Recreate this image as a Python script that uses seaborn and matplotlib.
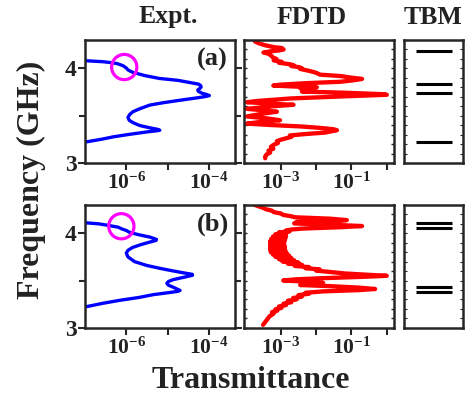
import numpy as np
import pandas as pd
import matplotlib
matplotlib.use("Agg")
import matplotlib.pyplot as plt
import seaborn as sns
from matplotlib.ticker import FixedLocator, MultipleLocator, FixedFormatter

# ---------------- data (frequency in GHz, log10 transmittance) ----------------
expt_a_freq = [3.22, 3.25, 3.275, 3.30, 3.317, 3.33, 3.34, 3.345, 3.355, 3.37, 3.395, 3.425, 3.45,
               3.48, 3.51, 3.54, 3.575, 3.61, 3.635, 3.66, 3.685, 3.70, 3.71, 3.72, 3.735, 3.755,
               3.77, 3.785, 3.80, 3.815, 3.83, 3.85, 3.87, 3.89, 3.92, 3.954, 3.97, 3.98, 4.0,
               4.024, 4.04, 4.048, 4.058, 4.066, 4.076, 4.078]
expt_a_logT = [-7.0, -6.6, -6.32, -5.95, -5.67, -5.45, -5.25, -5.19, -5.25, -5.43, -5.68, -5.84, -5.93,
               -5.96, -5.92, -5.84, -5.65, -5.43, -5.1, -4.71, -4.3, -4.08, -3.99, -4.05, -4.17, -4.26,
               -4.27, -4.22, -4.19, -4.2, -4.25, -4.5, -4.75, -5.2, -5.55, -5.84, -5.92, -5.96, -6.0,
               -6.08, -6.18, -6.24, -6.4, -6.56, -6.96, -7.0]

expt_b_freq = [3.22, 3.26, 3.29, 3.32, 3.35, 3.37, 3.385, 3.395, 3.405, 3.43, 3.45, 3.47, 3.49, 3.51,
               3.535, 3.555, 3.565, 3.58, 3.60, 3.63, 3.66, 3.70, 3.75, 3.79, 3.82, 3.85, 3.88, 3.905,
               3.925, 3.935, 3.945, 3.96, 3.985, 4.01, 4.03, 4.045, 4.065, 4.085, 4.10, 4.112]
expt_b_logT = [-7.0, -6.55, -6.16, -5.7, -5.35, -5.0, -4.75, -4.70, -4.75, -4.87, -4.98, -5.02, -4.98, -4.86,
               -4.6, -4.40, -4.40, -4.6, -4.85, -5.2, -5.51, -5.8, -5.96, -6.0, -5.96, -5.85, -5.65, -5.45,
               -5.28, -5.27, -5.33, -5.43, -5.7, -5.92, -6.0, -6.1, -6.2, -6.45, -6.66, -7.0]

circle_a = (-6.05, 4.01)
circle_b = (-6.12, 4.075)

fdtd_a_freq = [4.28, 4.26, 4.24, 4.22, 4.21, 4.195, 4.185, 4.175, 4.163, 4.15, 4.13, 4.11, 4.095, 4.08,
               4.065, 4.055, 4.04, 4.03, 4.02, 4.01, 4.0, 3.99, 3.97, 3.95, 3.93, 3.915, 3.9, 3.885,
               3.87, 3.855, 3.84, 3.825, 3.815, 3.805, 3.797, 3.787, 3.775, 3.762, 3.752, 3.74, 3.725,
               3.718, 3.71, 3.70, 3.68, 3.655, 3.64, 3.625, 3.613, 3.595, 3.57, 3.555, 3.54, 3.52,
               3.49, 3.47, 3.45, 3.435, 3.415, 3.40, 3.385, 3.37, 3.355, 3.345, 3.335, 3.32, 3.305,
               3.29, 3.275, 3.26, 3.245, 3.23, 3.21, 3.19, 3.17, 3.15, 3.13, 3.11, 3.09, 3.07, 3.05]
fdtd_a_logT = [-3.73, -3.62, -3.45, -3.2, -2.97, -2.92, -3.05, -3.3, -3.49, -3.35, -3.27, -3.22, -3.12, -3.2,
               -2.97, -3.05, -2.75, -2.64, -2.7, -2.5, -2.41, -2.45, -2.2, -2.0, -1.89, -1.3, -1.04, -0.70,
               -0.95, -1.32, -2.3, -3.0, -3.21, -2.6, -1.98, -2.45, -2.2, -2.12, -2.4, -1.2, -0.15,
               0.0, -0.6, -1.32, -2.7, -3.6, -3.96, -3.3, -2.64, -3.3, -3.96, -3.5, -3.11, -3.5,
               -3.96, -3.4, -3.02, -3.5, -3.96, -3.3, -2.45, -1.9, -1.5, -1.41, -1.55, -1.75, -2.3,
               -2.74, -2.7, -2.85, -3.0, -3.11, -3.08, -3.21, -3.28, -3.21, -3.35, -3.3, -3.40, -3.44, -3.44]

fdtd_b_freq = [4.30, 4.285, 4.27, 4.255, 4.24, 4.225, 4.21, 4.195, 4.18, 4.17, 4.155, 4.14, 4.13, 4.12,
               4.105, 4.09, 4.077, 4.065, 4.05, 4.04, 4.03, 4.02,
               4.01, 4.0, 3.99, 3.978, 3.966, 3.954, 3.942, 3.93, 3.918, 3.906, 3.894, 3.882, 3.87,
               3.858, 3.846, 3.834, 3.822, 3.81, 3.798, 3.786, 3.774, 3.762, 3.75, 3.738, 3.726,
               3.714, 3.702, 3.69, 3.678, 3.666, 3.654, 3.642,
               3.63, 3.618, 3.605, 3.59, 3.575, 3.56, 3.55, 3.54, 3.525, 3.512, 3.50, 3.488, 3.475,
               3.462, 3.452, 3.44, 3.425, 3.41, 3.398, 3.385, 3.37, 3.36, 3.345, 3.33, 3.315, 3.30,
               3.285, 3.27, 3.255, 3.24, 3.225, 3.21, 3.195, 3.18, 3.165, 3.15, 3.12, 3.09, 3.06, 3.03]
fdtd_b_logT = [-3.73, -3.62, -3.50, -3.42, -3.25, -3.2, -3.0, -2.93, -2.7, -2.6, -1.6, -1.13, -1.35, -2.55,
               -2.62, -1.5, -0.70, -1.3, -2.4, -2.7, -2.85, -2.75,
               -3.05, -2.85, -3.15, -2.85, -3.22, -2.86, -3.27, -2.88, -3.3, -2.9, -3.3, -2.9, -3.3,
               -2.88, -3.3, -2.88, -3.3, -2.86, -3.28, -2.82, -3.22, -2.76, -3.15, -2.7, -3.05,
               -2.62, -2.95, -2.5, -2.8, -2.4, -2.6, -2.2,
               -2.3, -1.9, -2.0, -1.6, -1.2, -0.5, 0.0, -0.6, -1.8, -2.6, -2.93, -2.3, -1.80,
               -2.1, -2.45, -1.6, -0.8, -0.33, -0.8, -1.8, -2.3, -2.2, -2.5, -2.4, -2.65, -2.55,
               -2.8, -2.7, -2.92, -2.85, -3.05, -2.98, -3.15, -3.1, -3.25, -3.2, -3.32, -3.38, -3.44, -3.5]

tbm_a_levels = [4.174, 3.833, 3.735, 3.223]
tbm_b_levels = [4.106, 4.053, 3.434, 3.381]

panel_titles = ["Expt.", "FDTD", "TBM"]
panel_tags = ["(a)", "(b)"]
expt_ticks = [1e-6, 1e-5, 1e-4]
expt_ticklabels = [r"$10^{-6}$", "", r"$10^{-4}$"]
fdtd_ticks = [1e-3, 1e-2, 1e-1, 1e0]
fdtd_ticklabels = [r"$10^{-3}$", "", r"$10^{-1}$", ""]

# ---------------- style ----------------
sns.set_style("ticks")
plt.rcParams["font.family"] = ["Liberation Serif", "DejaVu Serif"]
plt.rcParams["font.weight"] = "bold"
plt.rcParams["mathtext.fontset"] = "custom"
plt.rcParams["mathtext.rm"] = "Liberation Serif:bold"
plt.rcParams["mathtext.it"] = "Liberation Serif:bold"
plt.rcParams["mathtext.bf"] = "Liberation Serif:bold"
plt.rcParams["mathtext.default"] = "rm"
TXT = "#222222"
plt.rcParams["xtick.labelcolor"] = TXT
plt.rcParams["ytick.labelcolor"] = TXT

W, H = 473, 399
fig = plt.figure(figsize=(W / 100, H / 100), dpi=100)

def rect(l, r, t, b):
    return [l / W, 1 - b / H, (r - l) / W, (b - t) / H]

rows = [(39.5, 163), (205, 327.7)]
cols = [(85, 235), (244, 393.5), (404, 462.5)]

expt_data = [(expt_a_freq, expt_a_logT, circle_a), (expt_b_freq, expt_b_logT, circle_b)]
fdtd_data = [(fdtd_a_freq, fdtd_a_logT), (fdtd_b_freq, fdtd_b_logT)]
tbm_data = [tbm_a_levels, tbm_b_levels]

SPW = 1.8
for r, (t, b) in enumerate(rows):
    # ---- Expt ----
    ax = fig.add_axes(rect(cols[0][0], cols[0][1], t, b))
    fq, lg, circ = expt_data[r]
    df = pd.DataFrame({"T": 10 ** np.array(lg), "f": fq})
    sns.lineplot(data=df, x="T", y="f", sort=False, estimator=None, color="#0000ff",
                 lw=2.4, ax=ax)
    cdf = pd.DataFrame({"T": [10 ** circ[0]], "f": [circ[1]]})
    sns.scatterplot(data=cdf, x="T", y="f", marker="o", s=330, facecolor="none",
                    edgecolor="#ff00ff", linewidth=2.3, ax=ax, zorder=5)
    ax.set_xscale("log")
    ax.set_xlim(1e-7, 10 ** -3.37)
    ax.set_ylim(3, 4.3)
    ax.xaxis.set_major_locator(FixedLocator(expt_ticks))
    ax.xaxis.set_major_formatter(FixedFormatter(expt_ticklabels))
    ax.xaxis.set_minor_locator(FixedLocator([]))
    ax.yaxis.set_major_locator(FixedLocator([3, 4]))
    ax.yaxis.set_minor_locator(FixedLocator([3.5]))
    ax.tick_params(axis="both", which="major", direction="out", length=5, width=1.5,
                   labelsize=17, pad=1, right=True)
    ax.tick_params(axis="x", labelsize=15.5, pad=2)
    ax.tick_params(axis="y", which="minor", direction="out", length=4, width=1.5, right=True)
    ax.text(0.85, 0.84, panel_tags[r], transform=ax.transAxes, ha="center", va="center",
            fontsize=19, fontweight="bold", color=TXT)
    ax.set_xlabel("")
    ax.set_ylabel("")
    for s in ax.spines.values():
        s.set_linewidth(SPW)
        s.set_visible(True)

    # ---- FDTD ----
    ax = fig.add_axes(rect(cols[1][0], cols[1][1], t, b))
    fq, lg = fdtd_data[r]
    df = pd.DataFrame({"T": 10 ** np.array(lg), "f": fq})
    sns.lineplot(data=df, x="T", y="f", sort=False, estimator=None, color="#ff0000",
                 lw=3.1, ax=ax)
    ax.set_xscale("log")
    ax.set_xlim(10 ** -4.04, 10 ** 0.19)
    ax.set_ylim(3, 4.3)
    ax.xaxis.set_major_locator(FixedLocator(fdtd_ticks))
    ax.xaxis.set_major_formatter(FixedFormatter(fdtd_ticklabels))
    ax.xaxis.set_minor_locator(FixedLocator([]))
    ax.yaxis.set_major_locator(FixedLocator([]))
    ax.yaxis.set_minor_locator(MultipleLocator(0.1))
    ax.tick_params(axis="x", which="major", direction="out", length=5, width=1.5,
                   labelsize=15.5, pad=2)
    ax.tick_params(axis="y", which="minor", direction="in", length=2.5, width=1.0,
                   left=True, right=True)
    ax.set_xlabel("")
    ax.set_ylabel("")
    for s in ax.spines.values():
        s.set_linewidth(SPW)
        s.set_visible(True)

    # ---- TBM ----
    ax = fig.add_axes(rect(cols[2][0], cols[2][1], t, b))
    ax.hlines(tbm_data[r], 0.2, 0.82, colors="black", lw=2.2)
    ax.set_xlim(0, 1)
    ax.set_ylim(3, 4.3)
    ax.set_xticks([])
    ax.yaxis.set_major_locator(FixedLocator([]))
    ax.yaxis.set_minor_locator(MultipleLocator(0.1))
    ax.tick_params(axis="y", which="minor", direction="in", length=2, width=0.8,
                   left=True, right=True)
    for s in ax.spines.values():
        s.set_linewidth(SPW)
        s.set_visible(True)

# titles and labels
title_x = [168, 312, 433]
for tx, tt in zip(title_x, panel_titles):
    fig.text(tx / W, 1 - 17 / H, tt, ha="center", va="center", fontsize=18.5,
             fontweight="bold", color=TXT)
fig.text(31 / W, 1 - 180 / H, "Frequency (GHz)", rotation=90, ha="center", va="center",
         fontsize=23, fontweight="bold", color=TXT)
fig.text(251 / W, 1 - 380 / H, "Transmittance", ha="center", va="center",
         fontsize=23, fontweight="bold", color=TXT)

fig.savefig("out.png", dpi=100)
